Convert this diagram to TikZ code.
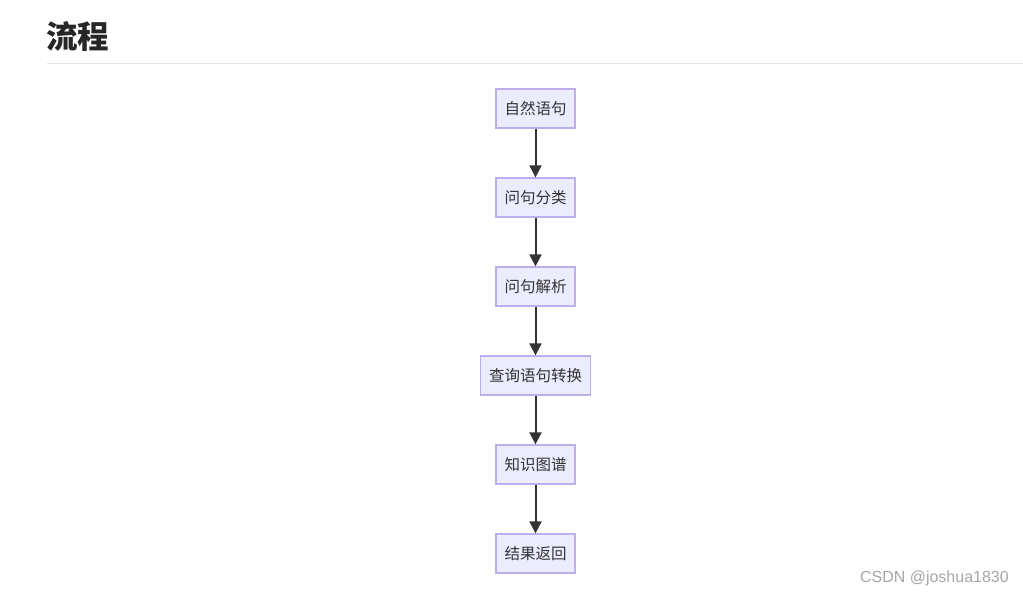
\documentclass[tikz,border=0pt]{standalone}
\usepackage{fontspec}
\setmainfont{Noto Sans CJK SC}
\newfontfamily\wmfont{Liberation Sans}
\usepackage{tikz}
\usetikzlibrary{positioning,arrows.meta}

\definecolor{boxfill}{HTML}{ECECFF}
\definecolor{boxline}{HTML}{BFAEEE}
\definecolor{edgeline}{HTML}{333333}
\definecolor{ruleline}{HTML}{E1E4EA}

\tikzset{
    stepbox/.style={draw=boxline, fill=boxfill, line width=1.8pt, minimum height=38.5pt,
        inner xsep=8.5pt, text=edgeline, font=\fontsize{15.5pt}{16pt}\selectfont},
    flow/.style={-{Triangle[width=12pt,length=12pt]}, draw=edgeline, line width=2pt}
}

\begin{document}
\begin{tikzpicture}[node distance=48.7pt, x=1pt, y=1pt]
    \useasboundingbox (0,0) rectangle (1023,-596);
    \fill[white] (0,0) rectangle (1023,-596);

    \node[anchor=west, inner sep=0pt, text=black!85, font=\fontsize{31.5pt}{32pt}\selectfont\bfseries] (title) at (46,-36.5) {流程};
    \coordinate (ruleL) at (47,-64);
    \coordinate (ruleR) at (1023,-64);
    \draw[ruleline, line width=1pt] (ruleL) -- (ruleR);

    \node[stepbox] (A) at (535.5,-108.5) {自然语句};
    \node[stepbox] (B) [below=of A] {问句分类};
    \node[stepbox] (C) [below=of B] {问句解析};
    \node[stepbox] (D) [below=of C] {查询语句转换};
    \node[stepbox] (E) [below=of D] {知识图谱};
    \node[stepbox] (F) [below=of E] {结果返回};

    \path (A) edge[flow] (B)
          (B) edge[flow] (C)
          (C) edge[flow] (D)
          (D) edge[flow] (E)
          (E) edge[flow] (F);

    \node[anchor=east, inner sep=0pt, text=black!35, font=\wmfont\fontsize{16pt}{16pt}\selectfont] (mark) at (1009,-578) {CSDN @joshua1830};
\end{tikzpicture}
\end{document}
